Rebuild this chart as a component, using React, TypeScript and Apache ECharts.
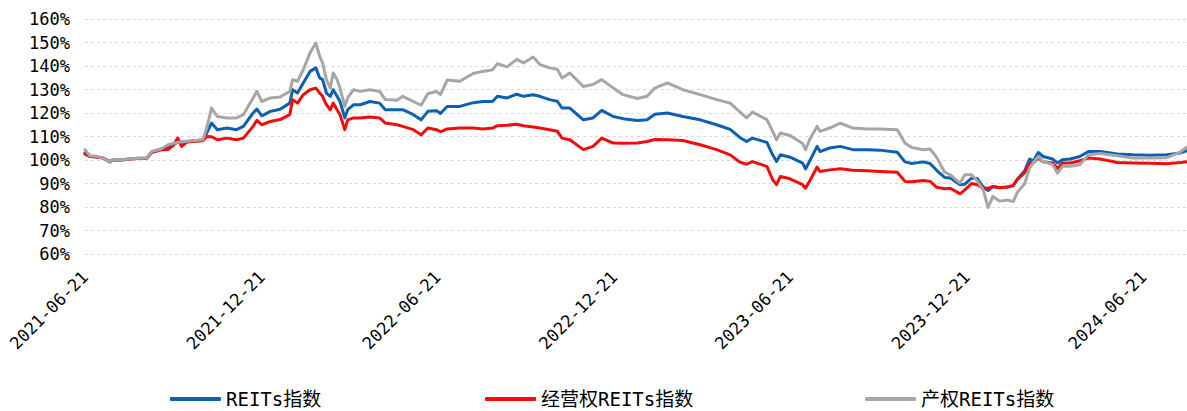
import React, { useEffect, useRef } from "react";
import * as echarts from "echarts";

// ---- data ----
const startDate = "2021-06-21";
const endDate = "2024-08-05";
const tickLabels = ["2021-06-21", "2021-12-21", "2022-06-21", "2022-12-21", "2023-06-21", "2023-12-21", "2024-06-21"];
const seriesNames = ["REITs指数", "经营权REITs指数", "产权REITs指数"];

const sampleDates = [
  "2021-06-21", "2021-06-26", "2021-07-03", "2021-07-10", "2021-07-17", "2021-07-20", "2021-07-30", "2021-08-10",
  "2021-08-24", "2021-08-29", "2021-09-07", "2021-09-15", "2021-09-20", "2021-09-25", "2021-09-29", "2021-10-05",
  "2021-10-21", "2021-10-25", "2021-10-30", "2021-11-05", "2021-11-15", "2021-11-25", "2021-12-02", "2021-12-12",
  "2021-12-16", "2021-12-21", "2021-12-30", "2022-01-09", "2022-01-19", "2022-01-22", "2022-01-27", "2022-02-02",
  "2022-02-09", "2022-02-15", "2022-02-19", "2022-02-22", "2022-02-26", "2022-03-02", "2022-03-05", "2022-03-09",
  "2022-03-12", "2022-03-17", "2022-03-20", "2022-03-26", "2022-04-02", "2022-04-12", "2022-04-22", "2022-04-28",
  "2022-05-10", "2022-05-16", "2022-05-27", "2022-06-04", "2022-06-11", "2022-06-20", "2022-06-24", "2022-07-01",
  "2022-07-14", "2022-07-28", "2022-08-07", "2022-08-17", "2022-08-22", "2022-09-01", "2022-09-11", "2022-09-18",
  "2022-09-28", "2022-10-05", "2022-10-15", "2022-10-23", "2022-10-28", "2022-11-05", "2022-11-19", "2022-11-29",
  "2022-12-08", "2022-12-20", "2022-12-30", "2023-01-14", "2023-01-24", "2023-02-01", "2023-02-14", "2023-03-02",
  "2023-03-20", "2023-04-06", "2023-04-20", "2023-04-30", "2023-05-07", "2023-05-13", "2023-05-28", "2023-06-03",
  "2023-06-07", "2023-06-11", "2023-06-21", "2023-07-04", "2023-07-07", "2023-07-12", "2023-07-19", "2023-07-22",
  "2023-08-01", "2023-08-12", "2023-08-25", "2023-09-09", "2023-09-22", "2023-10-10", "2023-10-18", "2023-10-25",
  "2023-11-06", "2023-11-13", "2023-11-20", "2023-11-28", "2023-12-04", "2023-12-14", "2023-12-19", "2023-12-26",
  "2024-01-01", "2024-01-07", "2024-01-12", "2024-01-17", "2024-01-24", "2024-02-01", "2024-02-07", "2024-02-11",
  "2024-02-19", "2024-02-24", "2024-02-28", "2024-03-04", "2024-03-09", "2024-03-19", "2024-03-24", "2024-03-29",
  "2024-04-06", "2024-04-16", "2024-04-25", "2024-05-07", "2024-05-25", "2024-06-10", "2024-06-28", "2024-07-15",
  "2024-07-29", "2024-08-05",
];

const reitsIndex = [
  103, 101.5, 101.4, 100.8, 99.2, 100.2, 100.1, 100.6,
  100.8, 103.4, 104.4, 105.5, 106.5, 107.5, 107.5, 107.9,
  108.5, 111.5, 115.7, 112.9, 113.6, 112.9, 114.3, 120,
  121.7, 118.8, 120.7, 121.6, 124.2, 129.9, 128.5, 132.8,
  137.7, 139.2, 134.9, 134.2, 128.5, 127.1, 129.9, 127.1,
  124.9, 117.9, 121.4, 123.5, 123.5, 124.9, 124.2, 121.4,
  121.4, 121.4, 119.3, 117.1, 120.7, 121, 119.8, 122.8,
  122.8, 124.4, 124.9, 124.9, 127.1, 126.4, 128, 127.1,
  127.8, 127.1, 125.7, 125, 122.1, 122.1, 117.1, 117.9,
  121.1, 118.5, 117.6, 116.8, 117.1, 119.5, 120, 118.5,
  117.1, 115, 113, 109.6, 107.9, 109.3, 107.5, 102.2,
  99.4, 102.2, 101.2, 98.7, 96.2, 100.1, 105.8, 103.6,
  105.1, 105.8, 104.4, 104.4, 104.2, 103.3, 99.2, 98.5,
  99.2, 98.5, 95.5, 92.6, 92.3, 89.5, 89.7, 92.3,
  92, 88.5, 87, 88.7, 88.2, 88.5, 89, 91.6,
  95.4, 100.4, 99.6, 103.2, 101.5, 100.4, 98.7, 100.1,
  100.4, 101.5, 103.6, 103.6, 102.6, 102.2, 102, 102.2,
  103, 104,
];

const operatingIndex = [
  102.5, 101.5, 101.3, 100.8, 99.3, 100.1, 100, 100.5,
  100.7, 103.2, 104.2, 104.5, 106, 109.3, 105.8, 107.7,
  108.2, 110, 109.9, 108.6, 109.3, 108.6, 109.3, 114.3,
  116.9, 115, 116.4, 117.2, 119.3, 125.7, 124.2, 127.8,
  129.9, 130.6, 128.5, 127.1, 123.5, 121.4, 124.2, 121.4,
  119.3, 112.9, 117.1, 117.9, 117.9, 118.3, 117.9, 115.7,
  115, 114.3, 112.9, 110.7, 113.6, 112.9, 112, 113.2,
  113.6, 113.6, 113.2, 113.6, 114.6, 114.8, 115.2, 114.6,
  114, 113.6, 112.9, 112.2, 109.3, 108.6, 104.4, 105.8,
  109.3, 107.2, 107.1, 107.2, 107.9, 108.7, 108.6, 108.3,
  106.5, 104.4, 102.2, 99.1, 98.2, 99.3, 97.3, 91.6,
  89.5, 93, 92, 89.5, 88, 91.6, 97, 95.1,
  95.8, 96.3, 95.6, 95.4, 95.1, 94.8, 90.9, 90.7,
  91.3, 90.9, 88.4, 87.8, 88, 85.6, 87.3, 90,
  89.5, 88, 88, 88.7, 88.2, 88.5, 89.2, 91.6,
  94.6, 98.7, 98.9, 100.8, 99.2, 98.7, 96.4, 98.7,
  98.7, 99.7, 100.8, 100.4, 98.9, 98.7, 98.6, 98.4,
  98.9, 99.3,
];

const propertyIndex = [
  104.4, 101.8, 101.6, 100.8, 99.1, 100.2, 100.1, 100.6,
  100.8, 103.6, 104.6, 106.5, 107, 107.5, 107.8, 108,
  108.6, 113.6, 122.1, 118.5, 117.9, 117.9, 119.3, 126.4,
  129.2, 124.9, 126.4, 126.8, 129.2, 134.2, 133.5, 138.4,
  145.6, 149.8, 144.1, 141.3, 134.2, 130.6, 137, 134.2,
  130.6, 122.8, 126.4, 129.9, 129.2, 129.9, 129.2, 125.7,
  125.4, 127.1, 124.9, 123.3, 128.2, 129.2, 127.8, 134,
  133.5, 136.8, 137.7, 138.4, 141, 139.6, 142.8, 141.3,
  143.8, 140.6, 139.2, 138.6, 134.9, 137, 131.3, 132.1,
  134.2, 130.6, 127.8, 126.2, 127.1, 130.6, 132.8, 129.9,
  127.8, 125.7, 124.2, 120.5, 117.9, 120.4, 117.2, 112.2,
  108.6, 111.5, 110.4, 107, 104.4, 109.3, 114.3, 112.2,
  113.6, 115.7, 113.6, 113.2, 113.2, 112.9, 107.2, 105.3,
  104.4, 104.7, 101, 94.8, 93.7, 90.2, 93.7, 93.7,
  91, 87.3, 79.8, 84.5, 82.5, 83, 82.3, 86,
  90, 96.5, 99, 101.5, 99.4, 98, 94.4, 97.3,
  97.3, 98, 102.2, 102.8, 101.8, 100.8, 100.8, 101,
  103.4, 105.5,
];

const seriesValues = [reitsIndex, operatingIndex, propertyIndex];
const seriesColors = ["#0b5fb5", "#f20d0d", "#a6a6a6"];
const legendLefts = [170, 485, 865];

function buildDays(start: string, end: string): string[] {
  const out: string[] = [];
  const d = new Date(start + "T00:00:00Z");
  const e = new Date(end + "T00:00:00Z");
  while (d.getTime() <= e.getTime()) {
    out.push(d.toISOString().slice(0, 10));
    d.setUTCDate(d.getUTCDate() + 1);
  }
  return out;
}

const LATIN_CJK = '"DejaVu Sans Mono", "Noto Sans CJK SC", sans-serif';

export default function App() {
  const ref = useRef<HTMLDivElement>(null);

  useEffect(() => {
    if (!ref.current) return;
    const chart = echarts.init(ref.current, undefined, { renderer: "svg" });
    const days = buildDays(startDate, endDate);
    const dayIndex: Record<string, number> = {};
    days.forEach((d, i) => (dayIndex[d] = i));
    const tickSet = new Set(tickLabels);

    const series = seriesNames.map((name, s) => {
      const arr: (number | null)[] = new Array(days.length).fill(null);
      sampleDates.forEach((d, i) => {
        const idx = dayIndex[d];
        if (idx !== undefined) arr[idx] = seriesValues[s][i];
      });
      return {
        name,
        type: "line",
        data: arr,
        connectNulls: true,
        symbol: "none",
        showSymbol: false,
        color: seriesColors[s],
        lineStyle: { width: 3, color: seriesColors[s], cap: "round", join: "round" },
        emphasis: { disabled: true },
      };
    });

    chart.setOption({
      animation: false,
      backgroundColor: "#ffffff",
      grid: { left: 85, right: 0, top: 19, bottom: 157, containLabel: false },
      legend: seriesNames.map((name, i) => ({
        data: [name],
        left: legendLefts[i],
        top: 389,
        padding: 0,
        icon: "roundRect",
        itemWidth: 51,
        itemHeight: 4,
        itemGap: 0,
        selectedMode: false,
        textStyle: { fontFamily: LATIN_CJK, fontSize: 19, color: "#000", lineHeight: 20 },
      })),
      xAxis: {
        type: "category",
        data: days,
        boundaryGap: false,
        axisLine: { show: false },
        axisTick: { show: false },
        splitLine: { show: false },
        axisLabel: {
          interval: (_i: number, v: string) => tickSet.has(v),
          rotate: 45,
          margin: 20,
          fontSize: 17,
          fontFamily: LATIN_CJK,
          color: "#000",
        },
      },
      yAxis: {
        type: "value",
        min: 60,
        max: 160,
        interval: 10,
        axisLine: { show: false },
        axisTick: { show: false },
        axisLabel: {
          formatter: "{value}%",
          margin: 15,
          fontSize: 17,
          fontFamily: LATIN_CJK,
          color: "#000",
        },
        splitLine: { show: true, lineStyle: { color: "#d9d9d9", width: 1, type: [3, 3] } },
      },
      series,
    });

    return () => chart.dispose();
  }, []);

  return (
    <div
      ref={ref}
      style={{ position: "absolute", left: 0, top: 0, width: 1187, height: 411, background: "#fff" }}
    />
  );
}
